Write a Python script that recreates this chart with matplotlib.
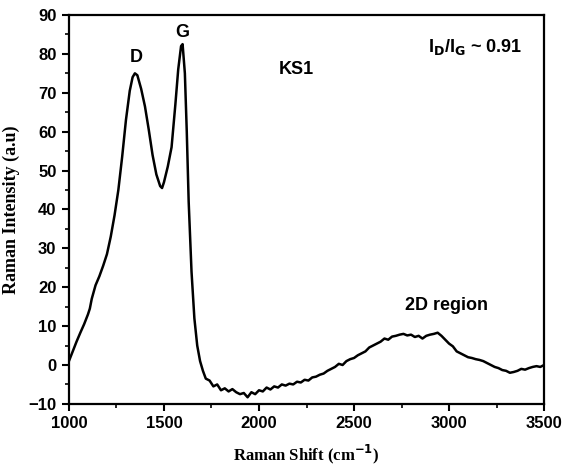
import numpy as np
import matplotlib
matplotlib.use("Agg")
import matplotlib.pyplot as plt
from matplotlib.ticker import MultipleLocator

# Raman spectrum of KS1
shift = [1000, 1020, 1040, 1060, 1080, 1100, 1110, 1120, 1140, 1160, 1180, 1200,
         1220, 1240, 1260, 1280, 1300, 1320, 1335, 1347, 1360, 1380, 1400, 1420,
         1440, 1460, 1480, 1490, 1500, 1520, 1540, 1560, 1575, 1590, 1598, 1610,
         1620, 1630, 1645, 1660, 1675, 1690, 1705, 1720, 1740, 1760, 1780, 1800,
         1820, 1840, 1860, 1880, 1900, 1920, 1940, 1960, 1980, 2000, 2020, 2040,
         2060, 2080, 2100, 2120, 2140, 2160, 2180, 2200, 2220, 2240, 2260, 2280,
         2300, 2320, 2340, 2360, 2380, 2400, 2420, 2440, 2460, 2480, 2500, 2520,
         2540, 2560, 2580, 2600, 2620, 2640, 2660, 2680, 2700, 2720, 2740, 2760,
         2780, 2800, 2820, 2840, 2860, 2880, 2900, 2920, 2940, 2960, 2980, 3000,
         3020, 3040, 3060, 3080, 3100, 3120, 3140, 3160, 3180, 3200, 3220, 3240,
         3260, 3280, 3300, 3320, 3340, 3360, 3380, 3400, 3420, 3440, 3460, 3480,
         3500]
intensity = [1.0, 3.5, 6.0, 8.3, 10.5, 13.0, 14.5, 17.0, 20.5, 22.8, 25.5, 28.5,
             33.0, 38.5, 45.0, 53.5, 63.0, 70.5, 74.0, 75.0, 74.5, 71.0, 66.5, 60.5,
             54.0, 49.0, 46.0, 45.5, 47.0, 51.0, 56.0, 67.0, 76.0, 82.0, 82.5, 75.0,
             60.0, 42.0, 24.0, 12.0, 5.0, 1.0, -1.5, -3.5, -4.0, -5.5, -5.0, -6.5,
             -6.0, -6.8, -6.2, -7.0, -7.5, -7.2, -8.3, -7.0, -7.5, -6.5, -6.8, -5.8,
             -6.3, -5.5, -5.8, -5.0, -5.3, -4.8, -5.0, -4.3, -4.5, -3.8, -4.0, -3.2,
             -3.0, -2.5, -2.2, -1.5, -1.0, -0.5, 0.3, 0.0, 1.0, 1.5, 1.8, 2.5,
             3.0, 3.5, 4.5, 5.0, 5.5, 6.0, 6.8, 6.5, 7.3, 7.5, 7.8, 8.0,
             7.6, 7.8, 7.2, 7.5, 6.8, 7.5, 7.8, 8.0, 8.3, 7.5, 6.5, 5.5,
             4.8, 3.5, 3.0, 2.5, 2.0, 1.8, 1.5, 1.3, 1.0, 0.5, 0.0, -0.5,
             -0.8, -1.3, -1.5, -2.0, -1.8, -1.5, -1.0, -1.2, -0.8, -0.5, -0.3, -0.5,
             0.0]

fig = plt.figure(figsize=(5.65, 4.68), dpi=100)
ax = fig.add_axes([0.122, 0.137, 0.841, 0.831])

ax.plot(shift, intensity, color="black", lw=1.8)

ax.set_xlim(1000, 3500)
ax.set_ylim(-10, 90)
ax.xaxis.set_major_locator(MultipleLocator(500))
ax.xaxis.set_minor_locator(MultipleLocator(250))
ax.yaxis.set_major_locator(MultipleLocator(10))
ax.yaxis.set_minor_locator(MultipleLocator(5))
ax.tick_params(which="major", direction="out", length=5, width=1.5, pad=4)
ax.tick_params(which="minor", direction="out", length=3, width=1.2)
for s in ax.spines.values():
    s.set_linewidth(1.6)

for lab in ax.get_xticklabels() + ax.get_yticklabels():
    lab.set_family("Liberation Sans")
    lab.set_fontweight("bold")
    lab.set_fontsize(12)

ax.set_xlabel("Raman Shift (cm$^{\\mathbf{-1}}$)", family="Liberation Serif",
              fontweight="bold", fontsize=12, labelpad=8)
ax.set_ylabel("Raman Intensity (a.u)", family="Liberation Serif",
              fontweight="bold", fontsize=13, labelpad=6)

tfont = dict(family="Liberation Sans", fontweight="bold", fontsize=13,
             ha="center", va="center")
ax.text(1353, 79, "D", **tfont)
ax.text(1595, 85.4, "G", **tfont)
ax.text(2195, 75.9, "KS1", **tfont)
ax.text(2989, 15.4, "2D region", **tfont)
ax.text(3137, 81.8, "I$_{\\mathbf{D}}$/I$_{\\mathbf{G}}$ ~ 0.91", **tfont)

fig.savefig("out.png", dpi=100)
